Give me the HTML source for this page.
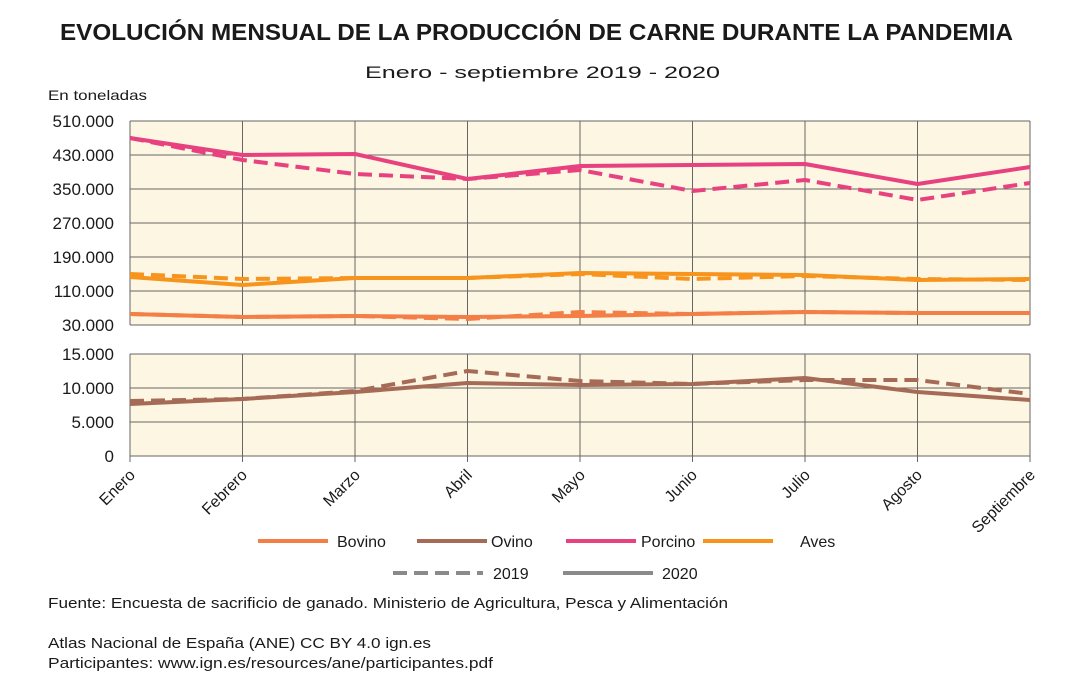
<!DOCTYPE html>
<html><head><meta charset="utf-8"><style>
body{margin:0;background:#fff;}
svg text{font-family:"Liberation Sans",sans-serif;fill:#1a1a1a;}
</style></head><body>
<svg width="1083" height="689" viewBox="0 0 1083 689" xmlns="http://www.w3.org/2000/svg">
<text x="60" y="40" font-size="23" font-weight="bold" textLength="953" lengthAdjust="spacingAndGlyphs">EVOLUCIÓN MENSUAL DE LA PRODUCCIÓN DE CARNE DURANTE LA PANDEMIA</text>
<text x="365" y="78" font-size="17" textLength="355" lengthAdjust="spacingAndGlyphs">Enero - septiembre 2019 - 2020</text>
<text x="48" y="100" font-size="14" textLength="99" lengthAdjust="spacingAndGlyphs">En toneladas</text>
<rect x="130" y="121" width="900" height="204" fill="#fdf6e2"/>
<rect x="130" y="354" width="900" height="102" fill="#fdf6e2"/>
<g stroke="#666" stroke-width="1">
<path d="M130 121H1030M130 155H1030M130 189H1030M130 223H1030M130 257H1030M130 291H1030M130 325H1030"/>
<path d="M130 354H1030M130 388H1030M130 422H1030M130 456H1030"/>
<path d="M130 121V325M242.5 121V325M355 121V325M467.5 121V325M580 121V325M692.5 121V325M805 121V325M917.5 121V325M1030 121V325"/>
<path d="M130 354V462M242.5 354V462M355 354V462M467.5 354V462M580 354V462M692.5 354V462M805 354V462M917.5 354V462M1030 354V462"/>
</g>
<g font-size="17" text-anchor="end">
<text x="114" y="127">510.000</text><text x="114" y="161">430.000</text><text x="114" y="195">350.000</text>
<text x="114" y="229">270.000</text><text x="114" y="263">190.000</text><text x="114" y="297">110.000</text>
<text x="114" y="331">30.000</text>
<text x="114" y="360">15.000</text><text x="114" y="394">10.000</text><text x="114" y="428">5.000</text><text x="114" y="462">0</text>
</g>
<g fill="none" stroke-width="4" stroke-linejoin="round">
<polyline stroke="#e8417f" stroke-dasharray="14,7" points="130,138 242.5,160 355,174 467.5,179 580,170 692.5,191 805,180 917.5,200 1030,183"/>
<polyline stroke="#e8417f" points="130,138 242.5,155 355,154 467.5,179 580,166 692.5,165 805,164 917.5,184 1030,167"/>
<polyline stroke="#f7941d" stroke-dasharray="14,7" points="130,274 242.5,279 355,278 467.5,278 580,274 692.5,279 805,276 917.5,279 1030,280"/>
<polyline stroke="#f7941d" points="130,277 242.5,285 355,278 467.5,278 580,273 692.5,274 805,275 917.5,280 1030,279"/>
<polyline stroke="#f47f46" stroke-dasharray="14,7" points="130,314 242.5,317 355,316 467.5,319 580,312 692.5,314 805,312 917.5,313 1030,313"/>
<polyline stroke="#f47f46" points="130,314 242.5,317 355,316 467.5,317 580,316 692.5,314 805,312 917.5,313 1030,313"/>
<polyline stroke="#a66b57" stroke-dasharray="14,7" points="130,401 242.5,399 355,391 467.5,371 580,381 692.5,384 805,380 917.5,380 1030,394"/>
<polyline stroke="#a66b57" points="130,404 242.5,399 355,392 467.5,383 580,385 692.5,384 805,378 917.5,392 1030,400"/>
</g>
<g font-size="16" text-anchor="end">
<text transform="translate(136,476) rotate(-45)">Enero</text>
<text transform="translate(248,476) rotate(-45)">Febrero</text>
<text transform="translate(361,476) rotate(-45)">Marzo</text>
<text transform="translate(473,476) rotate(-45)">Abril</text>
<text transform="translate(586,476) rotate(-45)">Mayo</text>
<text transform="translate(698,476) rotate(-45)">Junio</text>
<text transform="translate(811,476) rotate(-45)">Julio</text>
<text transform="translate(923,476) rotate(-45)">Agosto</text>
<text transform="translate(1036,476) rotate(-45)">Septiembre</text>
</g>
<g stroke-width="4">
<line x1="258" y1="541" x2="328" y2="541" stroke="#f47f46"/>
<line x1="417" y1="541" x2="487" y2="541" stroke="#a66b57"/>
<line x1="566" y1="541" x2="636" y2="541" stroke="#e8417f"/>
<line x1="703" y1="541" x2="773" y2="541" stroke="#f7941d"/>
<line x1="393" y1="573" x2="483" y2="573" stroke="#8a8a8a" stroke-dasharray="14,7"/>
<line x1="563" y1="573" x2="653" y2="573" stroke="#8a8a8a"/>
</g>
<g font-size="16">
<text x="337" y="547">Bovino</text><text x="491" y="547">Ovino</text><text x="641" y="547">Porcino</text><text x="800" y="547">Aves</text>
<text x="493" y="579">2019</text><text x="662" y="579">2020</text>
</g>
<g font-size="15">
<text x="48" y="608" textLength="680" lengthAdjust="spacingAndGlyphs">Fuente: Encuesta de sacrificio de ganado. Ministerio de Agricultura, Pesca y Alimentación</text>
<text x="48" y="648" textLength="383" lengthAdjust="spacingAndGlyphs">Atlas Nacional de España (ANE) CC BY 4.0 ign.es</text>
<text x="48" y="668" textLength="445" lengthAdjust="spacingAndGlyphs">Participantes: www.ign.es/resources/ane/participantes.pdf</text>
</g>
</svg>
</body></html>
